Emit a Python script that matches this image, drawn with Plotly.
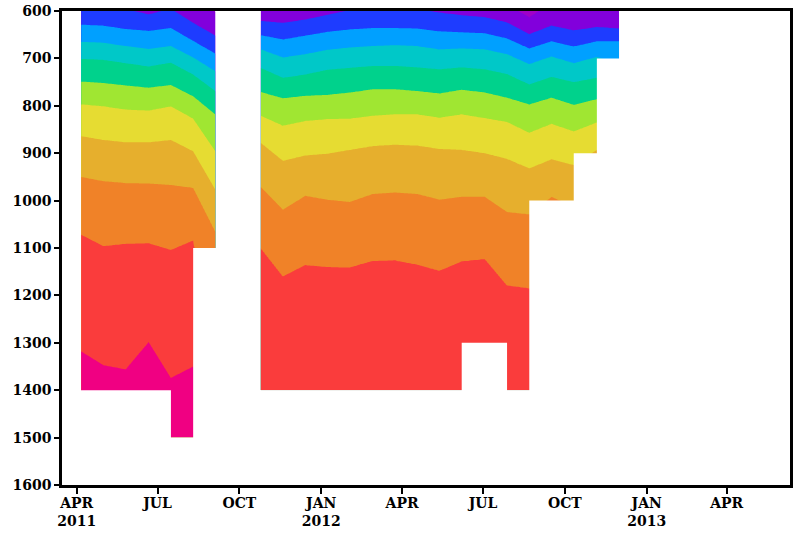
import numpy as np
import pandas as pd
import plotly.graph_objects as go

# Profile dates (one column per profile; None in `bottom` marks a missing profile)
dates = ["2011-04-06", "2011-05-01", "2011-05-26", "2011-06-21", "2011-07-16",
         "2011-08-10", "2011-09-04", "2011-09-29", "2011-10-25", "2011-11-19",
         "2011-12-14", "2012-01-08", "2012-02-02", "2012-02-28", "2012-03-24",
         "2012-04-18", "2012-05-13", "2012-06-07", "2012-07-03", "2012-07-28",
         "2012-08-22", "2012-09-16", "2012-10-11", "2012-11-06", "2012-12-01"]

# Deepest valid depth (m) of each profile
bottom = [1400, 1400, 1400, 1400, 1500, 1500, 1100, None, 1400, 1400,
          1400, 1400, 1400, 1400, 1400, 1400, 1400, 1400, 1300, 1400,
          1400, 1000, 1000, 900, 700]

# Depth (m) of each contour level in every profile
lvl01 = [560, 565, 570, 575, 572, 582, 603, None, 590, 592, 585, 575, 565,
         560, 560, 562, 570, 575, 578, 586, 614, 583, 590, 585, 588]
lvl02 = [585, 590, 596, 607, 595, 625, 652, None, 621, 625, 618, 608, 598,
         595, 594, 596, 603, 609, 613, 624, 649, 631, 641, 634, 637]
lvl03 = [629, 631, 638, 642, 636, 663, 690, None, 651, 660, 652, 644, 639,
         636, 636, 637, 643, 645, 647, 658, 679, 664, 675, 664, 664]
lvl04 = [665, 667, 674, 680, 674, 698, 727, None, 681, 698, 691, 682, 677,
         674, 672, 674, 681, 679, 681, 691, 712, 696, 710, 697, 712]
lvl05 = [701, 703, 710, 717, 709, 734, 769, None, 720, 741, 734, 724, 720,
         716, 716, 719, 723, 719, 723, 733, 755, 739, 750, 741, 752]
lvl06 = [749, 752, 757, 762, 756, 780, 818, None, 771, 784, 779, 777, 772,
         765, 765, 769, 774, 766, 772, 783, 797, 783, 798, 786, 800]
lvl07 = [797, 801, 808, 810, 801, 827, 896, None, 821, 842, 832, 828, 827,
         821, 818, 818, 825, 818, 826, 834, 857, 838, 854, 835, 850]
lvl08 = [864, 872, 877, 877, 872, 896, 977, None, 878, 916, 905, 901, 893,
         885, 882, 884, 891, 893, 900, 912, 932, 913, 925, 893, 930]
lvl09 = [950, 959, 963, 964, 967, 973, 1065, None, 971, 1019, 990, 998, 1003,
         986, 983, 986, 998, 992, 992, 1024, 1029, 992, 1012, 990, 1010]
lvl10 = [1072, 1096, 1091, 1090, 1104, 1084, 1300, None, 1100, 1160, 1136,
         1140, 1141, 1127, 1126, 1135, 1148, 1128, 1123, 1179, 1185, 1200,
         1200, 1100, 1200]
lvl11 = [1318, 1347, 1356, 1298, 1374, 1350, 1450, None, 1500, 1500, 1500,
         1500, 1500, 1500, 1500, 1500, 1500, 1500, 1500, 1500, 1500, 1500,
         1500, 1500, 1500]

band_colors = ["rgb(160,0,200)", "rgb(130,0,220)", "rgb(30,60,255)",
               "rgb(0,160,255)", "rgb(0,200,200)", "rgb(0,210,140)",
               "rgb(160,230,50)", "rgb(230,220,50)", "rgb(230,175,45)",
               "rgb(240,130,40)", "rgb(250,60,60)", "rgb(240,0,130)"]

tick_dates = ["2011-04-01", "2011-07-01", "2011-10-01", "2012-01-01",
              "2012-04-01", "2012-07-01", "2012-10-01", "2013-01-01",
              "2013-04-01"]
tick_text = ["APR<br>2011", "JUL", "OCT", "JAN<br>2012", "APR", "JUL",
             "OCT", "JAN<br>2013", "APR"]
depth_ticks = list(range(600, 1700, 100))

levels = [lvl01, lvl02, lvl03, lvl04, lvl05, lvl06, lvl07, lvl08, lvl09,
          lvl10, lvl11]
n_lev = len(levels)
colorscale = [[i / (len(band_colors) - 1), c] for i, c in enumerate(band_colors)]
t_cols = pd.to_datetime(dates)
N_SUB = 12          # sub-steps between neighbouring profiles (straight isolines)
DAY = pd.Timedelta(days=1)


def field(level_depths, grid):
    """Field value on a depth grid: level k sits at level_depths[k-1]."""
    dep = [level_depths[0] - 300] + list(level_depths) + [level_depths[-1] + 400]
    val = [0] + list(range(1, n_lev + 1)) + [n_lev + 1]
    return np.interp(grid, dep, val)


# contiguous runs of valid profiles
blocks, run = [], []
for j, b in enumerate(bottom):
    if b is None:
        if run:
            blocks.append(run)
        run = []
    else:
        run.append(j)
if run:
    blocks.append(run)

fig = go.Figure()
font = dict(family="DejaVu Serif", size=14, color="black", weight=700)

for cols in blocks:
    deep = max(bottom[j] for j in cols)
    grid = np.arange(580.0, deep + 0.5, 2.0)
    xs, zs = [], []
    for a, b in zip(cols[:-1], cols[1:]):
        for s in range(N_SUB):
            f = s / N_SUB
            xs.append(t_cols[a] + (t_cols[b] - t_cols[a]) * f)
            zs.append(field([(1 - f) * lv[a] + f * lv[b] for lv in levels], grid))
    xs.append(t_cols[cols[-1]])
    zs.append(field([lv[cols[-1]] for lv in levels], grid))

    fig.add_trace(go.Contour(
        x=[t.isoformat() for t in xs], y=grid, z=np.column_stack(zs),
        autocontour=False,
        contours=dict(start=1, end=n_lev, size=1, coloring="fill",
                      showlines=False),
        line=dict(width=0, smoothing=0),
        colorscale=colorscale, showscale=False, hoverinfo="skip"))

    # blank out grid boxes below the shallower of their two profiles
    px, py = [t_cols[cols[0]] - DAY], [min(bottom[cols[0]], bottom[cols[1]])]
    for a, b in zip(cols[:-1], cols[1:]):
        box_bottom = min(bottom[a], bottom[b])
        px += [t_cols[a], t_cols[b]]
        py += [box_bottom, box_bottom]
    px += [t_cols[cols[-1]] + DAY, t_cols[cols[-1]] + DAY, t_cols[cols[0]] - DAY]
    py += [py[-1], deep + 6, deep + 6]
    fig.add_trace(go.Scatter(x=[t.isoformat() for t in px], y=py, mode="none",
                             fill="toself", fillcolor="white",
                             hoverinfo="skip", showlegend=False))

fig.update_xaxes(type="date", range=["2011-03-15 12:00", "2013-06-11 05:00"],
                 tickvals=tick_dates, ticktext=tick_text, ticks="outside",
                 ticklen=6, tickwidth=1.5, tickcolor="black",
                 ticklabelstandoff=-3,
                 showline=True, linewidth=2.5, linecolor="black", mirror=True,
                 showgrid=False, zeroline=False, tickfont=font,
                 automargin=False)
fig.update_yaxes(range=[1600, 600], tickvals=depth_ticks, ticks="outside",
                 ticklen=5, tickwidth=1.5, tickcolor="black",
                 showline=True, linewidth=2.5, linecolor="black", mirror=True,
                 showgrid=False, zeroline=False, tickfont=font,
                 automargin=False)
fig.update_layout(width=798, height=533, showlegend=False,
                  margin=dict(l=62, r=8, t=11, b=48, autoexpand=False),
                  plot_bgcolor="white", paper_bgcolor="white")

fig.write_html("out.html")
